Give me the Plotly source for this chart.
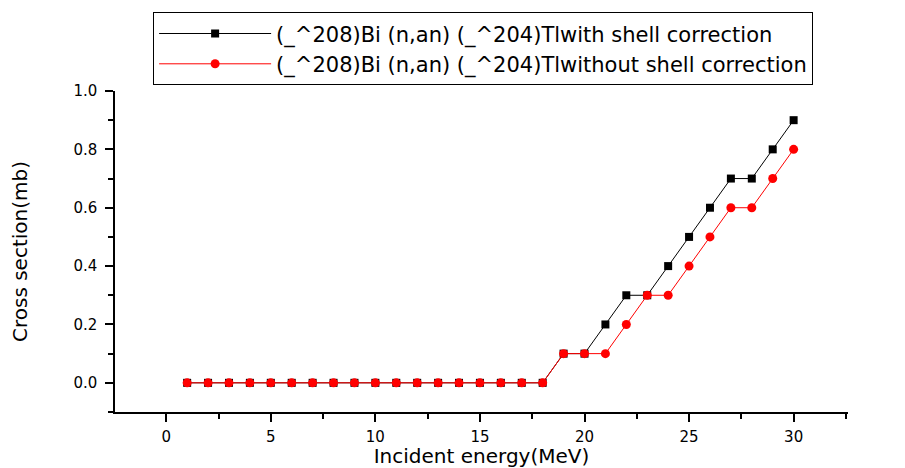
import plotly.graph_objects as go

energy = list(range(1, 31))
with_shell = [0]*18 + [0.1, 0.1, 0.2, 0.3, 0.3, 0.4, 0.5, 0.6, 0.7, 0.7, 0.8, 0.9]
without_shell = [0]*18 + [0.1, 0.1, 0.1, 0.2, 0.3, 0.3, 0.4, 0.5, 0.6, 0.6, 0.7, 0.8]
names = ["(_^208)Bi (n,an) (_^204)Tlwith shell correction",
         "(_^208)Bi (n,an) (_^204)Tlwithout shell correction"]

FONT = "'DejaVu Sans', Arial, sans-serif"

fig = go.Figure()
fig.add_trace(go.Scatter(x=energy, y=with_shell, mode="lines+markers", name=names[0],
                         line=dict(color="black", width=1),
                         marker=dict(symbol="square", size=8, color="black")))
fig.add_trace(go.Scatter(x=energy, y=without_shell, mode="lines+markers", name=names[1],
                         line=dict(color="red", width=1),
                         marker=dict(symbol="circle", size=9, color="red")))

axis_common = dict(showline=True, linecolor="black", linewidth=1.5, ticks="outside",
                   ticklen=8, tickwidth=1.5, tickcolor="black", showgrid=False,
                   zeroline=False, tickfont=dict(family=FONT, size=15, color="black"),
                   minor=dict(ticks="outside", ticklen=5, tickwidth=1.5, tickcolor="black"),
                   mirror=False, automargin=False)

fig.update_layout(
    width=905, height=468,
    margin=dict(l=115, r=57, t=89, b=56),
    plot_bgcolor="white", paper_bgcolor="white",
    xaxis=dict(range=[-2.45, 32.6], tick0=0, dtick=5, ticklabelstandoff=2,
               title=dict(text="Incident energy(MeV)", font=dict(family=FONT, size=20, color="black"), standoff=2),
               **axis_common),
    yaxis=dict(range=[-0.1, 1.0], tick0=0, dtick=0.2, tickformat=".1f", ticklabelstandoff=5,
               title=dict(text="Cross section(mb)", font=dict(family=FONT, size=20, color="black"), standoff=40),
               **axis_common),
    legend=dict(x=0.052, y=1.245, xanchor="left", yanchor="top",
                bordercolor="black", borderwidth=1, bgcolor="white",
                font=dict(family=FONT, size=21, color="black"),
                itemwidth=112, tracegroupgap=0),
    showlegend=True,
)
fig.update_xaxes(minor=dict(dtick=2.5))
fig.update_yaxes(minor=dict(dtick=0.1))

fig.write_html("out.html")
